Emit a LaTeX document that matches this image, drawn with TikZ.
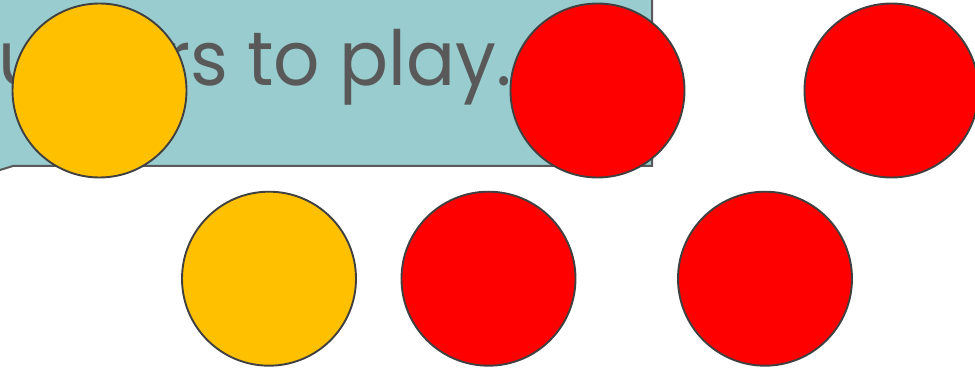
\documentclass[tikz,border=0pt]{standalone}
\usepackage{fontspec}
\setmainfont{Poppins}
\definecolor{bubble}{RGB}{153,204,206}
\definecolor{edge}{RGB}{89,89,89}
\definecolor{ring}{RGB}{64,64,64}
\definecolor{txt}{RGB}{89,89,89}
\definecolor{yel}{RGB}{255,192,0}
\definecolor{rd}{RGB}{255,0,0}
\tikzset{
  counter/.style={circle, draw=ring, line width=1.9pt, minimum size=174pt, inner sep=0pt},
  ycounter/.style={counter, fill=yel},
  rcounter/.style={counter, fill=rd},
}
\begin{document}
\begin{tikzpicture}[x=1pt,y=-1pt]
\useasboundingbox (0,0) rectangle (975,371);
\clip (0,0) rectangle (975,371);
\draw[edge, fill=bubble, line width=2pt] (-5,-10) -- (652,-10) -- (652,166) -- (13,166) -- (0,170) -- (-5,170) -- cycle;
\node[anchor=base east, inner sep=0pt, text=txt, xscale=0.955, font=\fontsize{76}{76}\selectfont] (caption) at (512,86) {counters to play.};
\node[ycounter] (y1) at (99.5,90.5) {};
\node[rcounter] (r1) at (597.5,90.5) {};
\node[rcounter] (r2) at (891.5,90.5) {};
\node[ycounter] (y2) at (269,278.7) {};
\node[rcounter] (r3) at (488.5,278.7) {};
\node[rcounter] (r4) at (765,278.7) {};
\end{tikzpicture}
\end{document}
